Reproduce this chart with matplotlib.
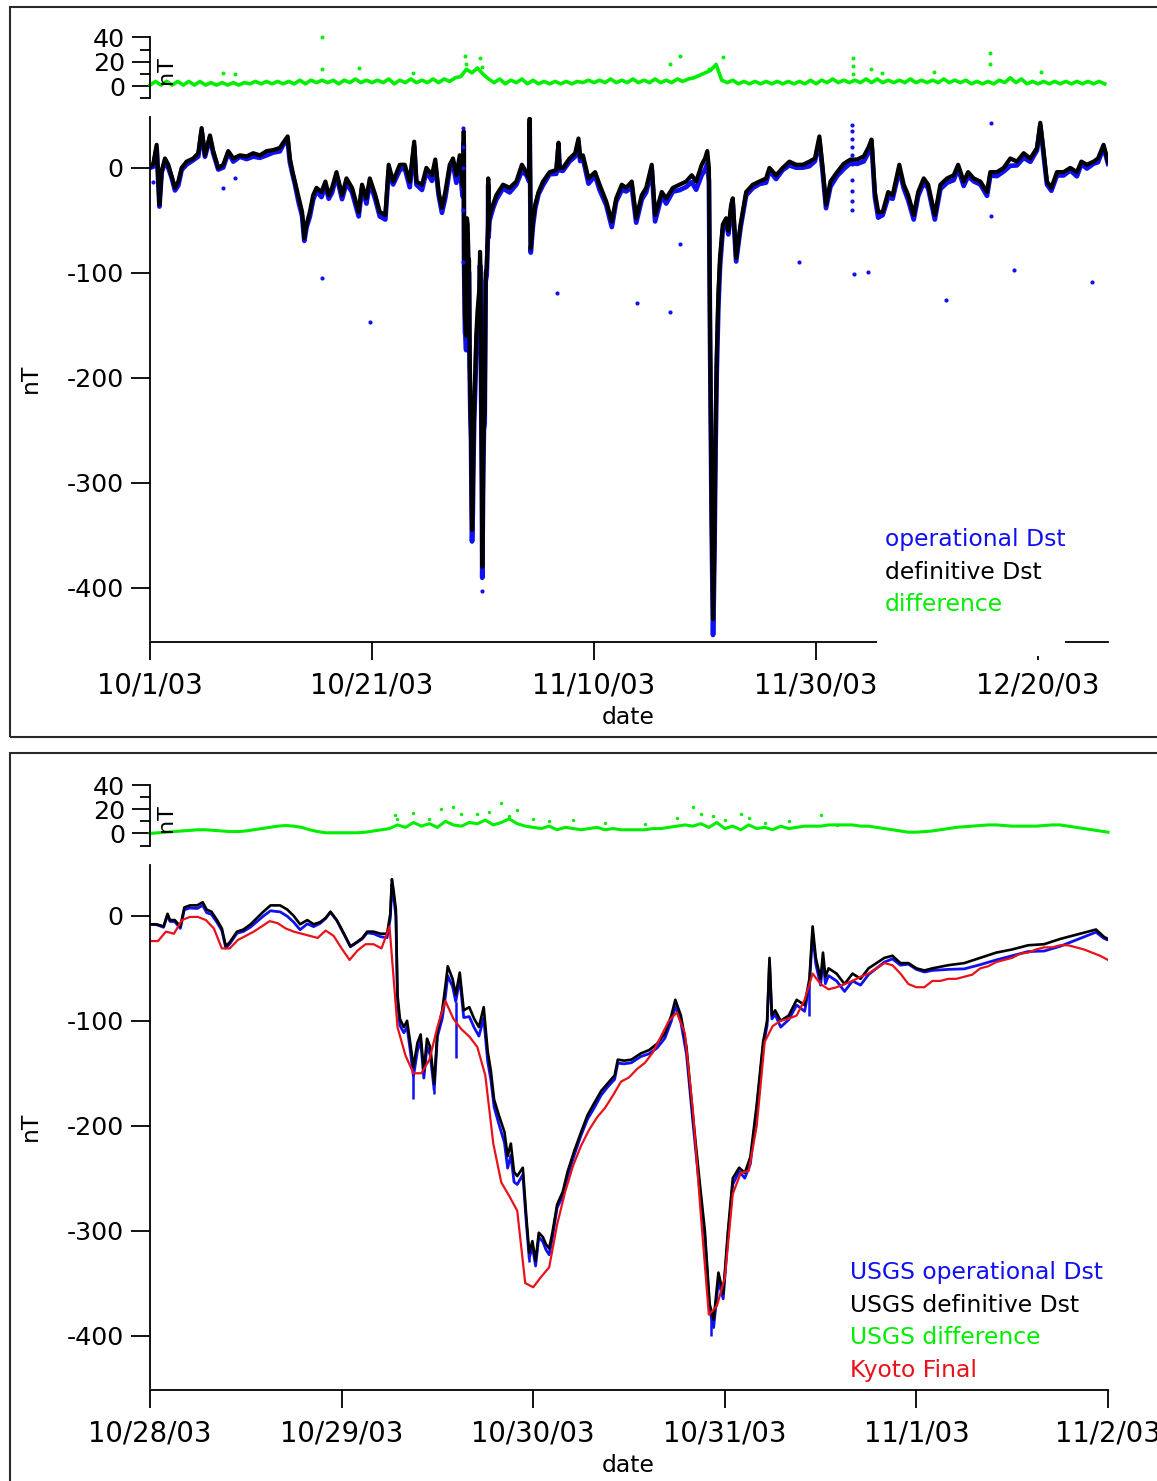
import numpy as np
import matplotlib.pyplot as plt
from matplotlib.patches import Rectangle

plt.rcParams['font.family'] = 'DejaVu Sans'

W, H = 1157, 1481
FS = 18.3      # y tick labels
FS_X = 19.8    # date tick labels
FS_TXT = 16.9  # legend and axis titles
BLUE = '#1010f0'
GREEN = '#00ee00'
RED = '#e8121a'

# ---------------- Oct 1 - Dec 26 2003 (days since 10/1/03) ----------------
top_day = [0.0, 0.3, 0.6, 0.85, 1.05, 1.35, 1.65, 1.95, 2.25, 2.55, 2.85, 3.3, 3.9,
           4.35, 4.65, 4.95, 5.4, 5.7, 6.15, 6.6, 7.05, 7.5, 8.1, 8.7, 9.3, 9.9,
           10.5, 11.1, 11.7, 12.0, 12.4, 12.6, 12.85, 13.05, 13.4, 13.7, 13.9,
           14.1, 14.4, 14.7, 15.0, 15.45, 15.8, 16.1, 16.4, 16.8, 17.3, 17.7,
           18.2, 18.8, 19.1, 19.5, 19.8, 20.3, 20.7, 21.2, 21.5, 21.9, 22.5,
           22.95, 23.4, 23.8, 24.0, 24.5, 24.9, 25.4, 25.7, 26.0, 26.3, 26.6,
           27.0, 27.3, 27.6, 27.9, 28.15,
           28.25, 28.26, 28.29, 28.325, 28.375, 28.43, 28.48, 28.525, 28.55,
           28.62, 28.67, 28.74, 28.79, 28.87, 28.92, 28.98, 29.01, 29.08,
           29.125, 29.21, 29.29, 29.39, 29.5, 29.67, 29.73, 29.77, 29.83, 29.9,
           29.93, 29.975, 30.02, 30.08, 30.15, 30.24, 30.33, 30.45, 30.47, 30.5,
           30.58, 30.9, 31.2, 31.8, 32.4, 33.0, 33.5, 33.9, 34.15, 34.2, 34.3,
           34.5, 34.7, 35.0, 35.4, 36.0, 36.6, 36.8, 36.9, 37.2, 37.8, 38.3,
           38.6, 38.75, 39.0, 39.5, 40.1, 40.5, 41.1, 41.6, 42.0, 42.5, 42.9,
           43.4, 43.8, 44.3, 44.7, 45.2, 45.5, 46.1, 46.5, 47.1, 47.7, 48.3,
           48.8, 49.2, 49.7, 50.0, 50.2, 50.35, 50.45, 50.6, 50.72, 50.78, 50.85,
           50.95, 51.05, 51.2, 51.35, 51.6, 51.9, 52.1, 52.35, 52.5, 52.8, 53.2,
           53.7, 54.3, 54.9, 55.5, 55.8, 56.4, 57.0, 57.6, 58.2, 58.8, 59.4,
           59.9, 60.3, 60.6, 60.9, 61.3, 61.9, 62.5, 63.1, 63.7, 64.3, 64.7,
           65.0, 65.3, 65.6, 66.0, 66.5, 66.9, 67.5, 67.9, 68.3, 68.8, 69.2,
           69.7, 70.1, 70.7, 71.2, 71.8, 72.4, 72.8, 73.3, 73.7, 74.2, 74.8,
           75.4, 75.7, 76.3, 76.9, 77.5, 78.1, 78.7, 79.3, 79.9, 80.2, 80.5,
           80.8, 81.2, 81.7, 82.3, 82.9, 83.5, 83.9, 84.4, 85.0, 85.4, 85.9, 86.3]
top_def = [1, 4, 22, -35, -3, 9, 3, -8, -19, -13, 0, 6, 9,
           14, 38, 12, 31, 16, 0, 3, 16, 9, 12, 11, 14, 12,
           16, 17, 19, 24, 30, 9, -4, -13, -29, -42, -67,
           -54, -42, -26, -19, -23, -13, -26, -19, -4, -26, -10,
           -19, -42, -16, -29, -10, -26, -42, -45, 3, -13, 3,
           3, -13, 25, -13, -16, 0, -7, 8, -23, -38, -23,
           3, 9, -7, 12, -17,
           -17, 35, -75, -106, -144, -148, -160, -90, -48,
           -54, -87, -87, -175, -229, -248, -321, -345, -317,
           -275, -225, -200, -160, -137, -115, -80, -95, -200, -300,
           -380, -330, -280, -240, -235, -100, -95, -55, -10, -60,
           -45, -35, -26, -16, -19, -13, 3, -4, -10, 47, -77,
           -50, -35, -23, -13, -4, -2, 24, 0, 0, 9, 14,
           28, 10, 12, -10, -4, -16, -32, -51, -29, -16, -19,
           -13, -48, -26, -19, 3, -45, -23, -29, -19, -16, -13,
           -7, -13, 3, 9, 16, 0, -150, -330, -430, -400, -350,
           -250, -180, -120, -85, -54, -48, -60, -35, -29, -86, -54,
           -23, -16, -13, -10, 0, -7, 0, 6, 3, 3, 6,
           9, 30, 0, -35, -13, -4, 4, 8, 8, 11, 19,
           27, -23, -42, -42, -23, -26, 3, -16, -26, -45, -23,
           -10, -16, -45, -16, -10, -7, 3, -13, -4, -10, -13,
           -23, -4, -4, 0, 9, 6, 14, 9, 19, 43, 16,
           -13, -19, -4, -4, 0, -4, 6, 3, 6, 9, 22, 6]

# definitive - operational, half-day samples from 10/1/03
top_diff = [1, 4, 1, 4, 1, 4, 1, 4, 1, 4,
            1, 3, 1, 3, 1, 3, 1, 3, 2, 4,
            2, 4, 2, 4, 2, 4, 2, 5, 2, 5,
            3, 5, 3, 5, 2, 5, 3, 6, 3, 5,
            3, 5, 3, 6, 2, 5, 3, 6, 3, 5,
            3, 6, 3, 6, 4, 7, 8, 14, 11, 15,
            10, 6, 3, 6, 2, 5, 3, 6, 2, 5,
            2, 4, 2, 4, 2, 4, 2, 4, 3, 5,
            3, 5, 3, 6, 3, 5, 3, 6, 3, 5,
            3, 6, 3, 5, 3, 6, 4, 6, 7, 9,
            11, 13, 18, 5, 3, 5, 2, 4, 2, 4,
            2, 4, 2, 4, 2, 4, 2, 4, 2, 5,
            2, 5, 3, 6, 3, 5, 3, 5, 3, 6,
            3, 6, 3, 5, 3, 5, 3, 6, 3, 5,
            3, 5, 3, 6, 3, 5, 3, 5, 2, 4,
            2, 4, 2, 5, 3, 7, 3, 6, 2, 4,
            2, 4, 2, 4, 2, 4, 2, 4, 2, 4,
            2, 4, 2]

# isolated difference samples
top_diff_pt_day = [15.5, 15.5, 18.8, 6.6, 7.7, 23.7, 28.4, 28.5, 29.7, 29.9,
                   46.8, 47.7, 50.4, 51.6, 63.3, 63.3, 63.3, 64.95, 65.9,
                   70.6, 75.7, 75.7, 80.3]
top_diff_pt_val = [40, 14, 15, 11, 10, 11, 25, 18, 23, 16,
                   18, 25, 14, 24, 23, 17, 10, 14, 11,
                   12, 27, 18, 12]

# isolated operational samples
top_op_pt_day = [0.3, 6.6, 7.7, 15.5, 19.8, 29.9, 36.7, 43.9, 46.8, 47.7, 58.5,
                 63.4, 64.7, 71.7, 75.8, 75.8, 77.8, 84.9,
                 63.2, 63.2, 63.2, 63.2, 63.2, 63.2, 63.2, 63.2, 63.2, 63.2,
                 28.2, 28.2, 28.2, 28.2, 28.2]
top_op_pt_val = [-13, -19, -10, -105, -147, -403, -119, -129, -137, -73, -90,
                 -101, -99, -126, 43, -46, -97, -109,
                 41, 35, 28, 20, 12, 4, -12, -22, -32, -40,
                 38, 20, 0, -40, -90]

# ---------------- Oct 28 - Nov 2 2003 (hours since 10/28/03) ----------------
zoom_hr = [0, 0.8, 1.7, 2.2, 2.5, 3.1, 3.8, 4.3, 5, 5.9, 6.6, 7.1, 7.7, 8.4, 9,
           9.5, 10, 10.9, 11.7, 12.6, 13.4, 14.2, 15.1, 15.7, 16.3, 17.2, 18,
           18.8, 19.7, 20.5, 21.3, 22, 22.6, 23.4, 24.3, 25.1, 25.9, 26.6, 27.2,
           28, 28.9, 29.7, 30.1, 30.3, 30.5, 30.8, 31, 31.3, 31.8, 32.2, 32.6,
           33, 33.5, 33.9, 34.3, 34.7, 35.1, 35.6, 36, 36.6, 37, 37.3, 37.9,
           38.3, 38.8, 39.3, 40, 40.6, 41.2, 41.8, 42.3, 42.7, 43.1, 43.7, 44.4,
           44.8, 45.2, 45.6, 46, 46.7, 47.1, 47.5, 47.9, 48.3, 48.7, 49.2, 49.6,
           50, 50.4, 51, 51.7, 52.3, 53.1, 54, 54.8, 55.6, 56.5, 57.3, 58.2,
           58.6, 59.4, 60.3, 61.1, 61.5, 62.5, 63.5, 64.5, 65.3, 65.8, 66.5,
           67.2, 68, 68.8, 69.5, 70.1, 70.6, 71.2, 71.8, 72.4, 73, 73.8, 74.5,
           75.2, 76, 76.8, 77.3, 77.6, 77.9, 78.3, 79, 80, 81, 82, 82.6, 83,
           83.4, 84, 84.3, 84.6, 85, 86, 87, 88, 89, 90, 91, 92, 93, 94, 95,
           96, 97, 98, 100, 102, 104, 106, 108, 110, 112, 114, 116, 117.5,
           118.5, 119.5, 120]
zoom_def = [-8, -8, -10, 2, -4, -4, -10, 8, 10, 10, 13, 6, 4, -4, -12,
            -29, -25, -15, -13, -8, -2, 4, 10, 10, 10, 6, 0,
            -8, -4, -8, -6, -2, 4, -4, -17, -29, -25, -21, -15,
            -15, -17, -17, 2, 35, 25, 6, -75, -98, -106, -100, -121,
            -144, -121, -113, -148, -117, -125, -160, -110, -90, -67, -48, -60,
            -75, -54, -90, -87, -98, -106, -87, -129, -148, -175, -190, -206,
            -229, -217, -244, -248, -240, -283, -321, -310, -329, -302, -306, -313,
            -317, -302, -275, -263, -244, -225, -206, -190, -179, -167, -160, -152,
            -137, -138, -137, -133, -131, -128, -122, -112, -95, -80, -95,
            -125, -190, -250, -300, -370, -385, -340, -360, -300, -250, -240, -245,
            -230, -180, -120, -100, -40, -95, -90, -100, -95, -80, -85, -60, -10,
            -40, -60, -35, -58, -50, -55, -65, -55, -60, -50, -45, -40, -38, -45,
            -45, -50, -52, -50, -47, -45, -40, -35, -32, -28, -27, -22, -18, -15,
            -13, -20, -22]

# hourly difference, 10/28/03 00h .. 11/2/03 00h
zoom_diff = [0, 0.5, 1, 1.5, 2, 2.5, 3, 3, 2.5, 2,
             1.5, 1.5, 2, 3, 4, 5, 6, 6.5, 6, 5,
             3, 1.5, 0.5, 0.5, 0.5, 0.5, 0.5, 1, 2, 3,
             4, 7, 5, 9, 6, 8, 5, 10, 7, 6,
             9, 8, 11, 7, 9, 12, 8, 6, 5, 4,
             6, 3, 5, 4, 3, 4, 5, 3, 4, 3,
             3, 3, 3, 4, 4, 5, 6, 7, 6, 8,
             5, 9, 4, 6, 3, 7, 4, 5, 3, 6,
             4, 5, 6, 6, 6, 7, 7, 7, 7, 6,
             6, 5, 4, 3, 2, 1, 1, 1.5, 2, 3,
             4, 5, 5.5, 6, 6.5, 7, 7, 6.5, 6, 6,
             6, 6, 6.5, 7, 7, 6, 5, 4, 3, 2,
             1]
zoom_diff_pt_hr = [30.7, 31, 33, 35, 36.5, 38, 39, 41, 42.5, 44, 45, 46, 48,
                   50, 53, 57, 62, 66, 68, 69, 70.5, 72, 74, 75, 77, 80, 84, 86]
zoom_diff_pt_val = [15, 12, 17, 12, 20, 22, 16, 16, 18, 25, 14, 19, 12,
                    10, 11, 9, 8, 13, 22, 16, 14, 11, 16, 13, 9, 10, 15, 7]

# operational spikes beyond the definitive trace
zoom_op_spk_hr = [33, 35.6, 38.3, 47.5, 70.3, 82.6]
zoom_op_spk_val = [-175, -170, -135, -330, -400, -95]

# Kyoto final hourly Dst
kyoto = [-24, -24, -15, -17, -4, -1, -1, -4, -12, -31,
         -31, -23, -19, -15, -10, -5, -7, -12, -15, -17,
         -19, -21, -14, -19, -31, -42, -33, -27, -27, -31,
         -10, -106, -133, -150, -150, -137, -106, -81, -98, -108,
         -115, -125, -152, -217, -254, -267, -281, -350, -354, -344,
         -335, -294, -263, -238, -219, -204, -192, -183, -171, -158,
         -154, -146, -140, -130, -115, -100, -92, -112, -185, -285,
         -380, -372, -345, -265, -245, -243, -200, -120, -105, -100,
         -98, -95, -80, -55, -65, -70, -68, -65, -62, -58,
         -55, -50, -45, -47, -55, -65, -68, -68, -62, -62,
         -60, -60, -58, -56, -50, -48, -44, -42, -40, -36,
         -35, -32, -30, -30, -28, -28, -30, -32, -35, -38,
         -42]

top_ticks = [0, 20, 40, 60, 80]
top_ticklabels = ['10/1/03', '10/21/03', '11/10/03', '11/30/03', '12/20/03']
zoom_ticks = [0, 1, 2, 3, 4, 5]
zoom_ticklabels = ['10/28/03', '10/29/03', '10/30/03', '10/31/03', '11/1/03', '11/2/03']

fig = plt.figure(figsize=(W / 100, H / 100), dpi=100)


def px_axes(x0, y0, x1, y1):
    return fig.add_axes([x0 / W, 1 - y1 / H, (x1 - x0) / W, (y1 - y0) / H])


def style_diff_axes(ax, xmax):
    ax.set_xlim(0, xmax)
    ax.set_ylim(-10, 40)
    for s in ('top', 'right', 'bottom'):
        ax.spines[s].set_visible(False)
    ax.spines['left'].set_linewidth(1.3)
    ax.set_xticks([])
    ax.set_yticks([0, 20, 40])
    ax.set_yticks([-10, 10, 30], minor=True)
    ax.tick_params(axis='y', which='major', direction='out', length=13, width=1.3,
                   pad=5, labelsize=FS)
    ax.tick_params(axis='y', which='minor', direction='out', length=7, width=1.3)
    ax.patch.set_alpha(0)


def style_main_axes(ax, xmax, ticks, labels):
    ax.set_xlim(0, xmax)
    ax.set_ylim(-450, 48.5)
    for s in ('top', 'right'):
        ax.spines[s].set_visible(False)
    ax.spines['left'].set_linewidth(1.3)
    ax.spines['bottom'].set_linewidth(1.3)
    ax.spines['bottom'].set_position(('outward', 1.5))
    ax.set_yticks([0, -100, -200, -300, -400])
    ax.set_yticklabels(['0', '-100', '-200', '-300', '-400'])
    ax.set_xticks(ticks)
    ax.set_xticklabels(labels)
    ax.tick_params(axis='y', direction='out', length=14, width=1.3, pad=5, labelsize=FS)
    ax.tick_params(axis='x', direction='out', length=13, width=1.3, pad=8, labelsize=FS_X)
    ax.patch.set_alpha(0)


# ---------------- upper panel ----------------
top_xmax = 86.3
tg = px_axes(150, 37.5, 1108, 98.5)
style_diff_axes(tg, top_xmax)
diff_day = np.arange(len(top_diff)) * 0.5
tg.plot(diff_day, top_diff, color=GREEN, lw=2.6, clip_on=False)
tg.scatter(top_diff_pt_day, top_diff_pt_val, s=8, color=GREEN, lw=0, clip_on=False)
tg.text(16 / 958 * top_xmax, 13, 'nT', rotation=90, ha='center', va='center',
        fontsize=16)

tm = px_axes(150, 117, 1108, 640)
style_main_axes(tm, top_xmax, top_ticks, top_ticklabels)
top_op = np.array(top_def) - np.interp(top_day, diff_day, top_diff)
tm.plot(top_day, top_op, color=BLUE, lw=3.4)
tm.plot(top_day, top_def, color='black', lw=3.0)
tm.scatter(top_op_pt_day, top_op_pt_val, s=9, color=BLUE, lw=0, zorder=3)

fig.text(30 / W, 1 - 378 / H, 'nT', rotation=90, ha='center', va='center', fontsize=FS_TXT)
fig.text(628 / W, 1 - 718 / H, 'date', ha='center', va='center', fontsize=FS_TXT)

# legend block (its white backing hides part of the date axis)
fig.patches.append(Rectangle((877 / W, 1 - 656 / H), (1065 - 877) / W, (656 - 520) / H,
                             transform=fig.transFigure, facecolor='white',
                             edgecolor='none', zorder=5))
for i, (txt, col) in enumerate([('operational Dst', BLUE), ('definitive Dst', 'black'),
                                 ('difference', GREEN)]):
    fig.text(885 / W, 1 - (540 + 32.5 * i) / H, txt, color=col, fontsize=FS_TXT,
             ha='left', va='center', zorder=6)

# ---------------- lower panel ----------------
zg = px_axes(150, 785, 1108, 845.5)
style_diff_axes(zg, 5)
diff_hr = np.arange(len(zoom_diff))
zg.plot(diff_hr / 24, zoom_diff, color=GREEN, lw=2.2, clip_on=False)
zg.scatter(np.array(zoom_diff_pt_hr) / 24, zoom_diff_pt_val, s=6, color=GREEN, lw=0,
           clip_on=False)
zg.text(16 / 958 * 5, 13, 'nT', rotation=90, ha='center', va='center', fontsize=16)

zm = px_axes(150, 865, 1108, 1388)
style_main_axes(zm, 5, zoom_ticks, zoom_ticklabels)
zoom_op = np.array(zoom_def) - np.interp(zoom_hr, diff_hr, zoom_diff)
zoom_day = np.array(zoom_hr) / 24
zm.plot(zoom_day, zoom_op, color=BLUE, lw=2.0)
spk_day = np.array(zoom_op_spk_hr) / 24
zm.vlines(spk_day, np.interp(spk_day, zoom_day, zoom_op), zoom_op_spk_val,
          color=BLUE, lw=1.8)
zm.plot(zoom_day, zoom_def, color='black', lw=1.9)
zm.plot(np.arange(len(kyoto)) / 24, kyoto, color=RED, lw=1.6)

fig.text(30 / W, 1 - 1126 / H, 'nT', rotation=90, ha='center', va='center', fontsize=FS_TXT)
fig.text(628 / W, 1 - 1466 / H, 'date', ha='center', va='center', fontsize=FS_TXT)
for i, (txt, col) in enumerate([('USGS operational Dst', BLUE),
                                 ('USGS definitive Dst', 'black'),
                                 ('USGS difference', GREEN), ('Kyoto Final', RED)]):
    fig.text(850 / W, 1 - (1273 + 32.5 * i) / H, txt, color=col, fontsize=FS_TXT,
             ha='left', va='center', zorder=6)

# panel frames
fig.patches.append(Rectangle((10 / W, 1 - 737 / H), 1.0, (737 - 7) / H,
                             transform=fig.transFigure, fill=False,
                             edgecolor='#2a2a2a', lw=1.5, zorder=7))
fig.patches.append(Rectangle((10 / W, -0.1), 1.0, 0.1 + (1481 - 753) / H,
                             transform=fig.transFigure, fill=False,
                             edgecolor='#2a2a2a', lw=1.5, zorder=7))

fig.savefig('out.png', dpi=100)
